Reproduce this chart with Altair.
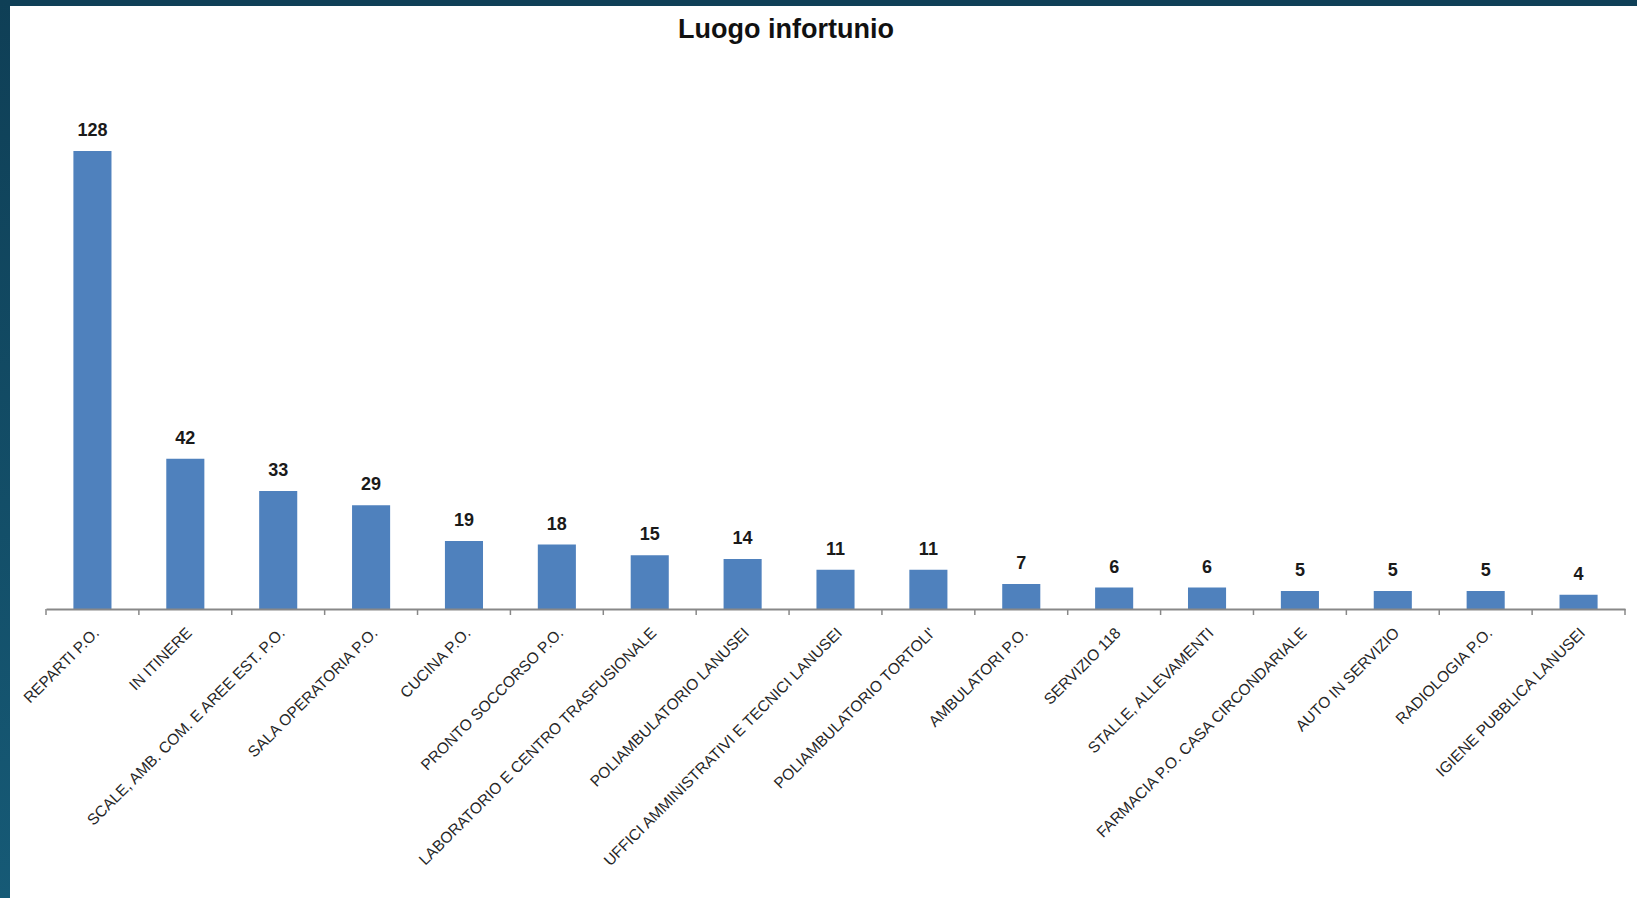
import altair as alt
import pandas as pd

# Workplace injuries by location
categories = [
    "REPARTI P.O.",
    "IN ITINERE",
    "SCALE, AMB. COM. E AREE EST. P.O.",
    "SALA OPERATORIA P.O.",
    "CUCINA P.O.",
    "PRONTO SOCCORSO P.O.",
    "LABORATORIO E CENTRO TRASFUSIONALE",
    "POLIAMBULATORIO LANUSEI",
    "UFFICI AMMINISTRATIVI  E TECNICI LANUSEI",
    "POLIAMBULATORIO TORTOLI'",
    "AMBULATORI P.O.",
    "SERVIZIO 118",
    "STALLE, ALLEVAMENTI",
    "FARMACIA P.O. CASA CIRCONDARIALE",
    "AUTO IN SERVIZIO",
    "RADIOLOGIA P.O.",
    "IGIENE PUBBLICA LANUSEI",
]
counts = [128, 42, 33, 29, 19, 18, 15, 14, 11, 11, 7, 6, 6, 5, 5, 5, 4]
title_text = "Luogo infortunio"

df = pd.DataFrame({"luogo": categories, "n": counts})

W, H = 1579, 501
PAD_L, PAD_T = 46, 108
TOTAL_W, TOTAL_H = 1637, 898

x_enc = alt.X(
    "luogo:N",
    sort=None,
    scale=alt.Scale(paddingInner=0, paddingOuter=0),
    axis=alt.Axis(
        title=None,
        labelAngle=-45,
        labelAlign="right",
        labelBaseline="middle",
        labelPadding=21,
        labelOffset=4,
        labelFont="Liberation Sans",
        labelFontSize=15.5,
        labelColor="#262626",
        labelLimit=600,
        ticks=False,
        tickSize=0,
        domainColor="#888888",
        domainWidth=2,
        zindex=1,
    ),
)
y_enc = alt.Y("n:Q", scale=alt.Scale(domain=[0, 140]), axis=None)

base = alt.Chart(df)

bars = base.mark_bar(color="#4F81BD", width=alt.RelativeBandSize(0.41)).encode(
    x=x_enc, y=y_enc
)

values = base.mark_text(
    font="Liberation Sans",
    fontSize=18,
    fontWeight="bold",
    color="#1a1a1a",
    baseline="alphabetic",
    dy=-15,
).encode(x=alt.X("luogo:N", sort=None), y=y_enc, text="n:Q")

# category separator ticks below the axis line
ticks_start = base.mark_rule(color="#888888", strokeWidth=1.5).encode(
    x=alt.X("luogo:N", sort=None, bandPosition=0),
    y=alt.value(H),
    y2=alt.value(H + 6),
)
ticks_end = (
    alt.Chart(df.tail(1))
    .mark_rule(color="#888888", strokeWidth=1.5)
    .encode(
        x=alt.X("luogo:N", sort=None, bandPosition=1),
        y=alt.value(H),
        y2=alt.value(H + 6),
    )
)

one = alt.Chart(pd.DataFrame({"k": [0]}))

title = one.mark_text(
    text=title_text,
    font="Liberation Sans",
    fontSize=27,
    fontWeight="bold",
    color="#111111",
    align="center",
    baseline="alphabetic",
).encode(x=alt.value(786 - PAD_L), y=alt.value(38 - PAD_T))

# dark frame strips along the top and left edges of the slide
top_strip = one.mark_rect(color="#0f4057").encode(
    x=alt.value(-PAD_L),
    x2=alt.value(TOTAL_W - PAD_L),
    y=alt.value(-PAD_T),
    y2=alt.value(6 - PAD_T),
)
left_strip = one.mark_rect(
    fill=alt.LinearGradient(
        gradient="linear",
        stops=[
            alt.GradientStop(color="#0f3f56", offset=0),
            alt.GradientStop(color="#165a76", offset=1),
        ],
        x1=0,
        x2=0,
        y1=0,
        y2=1,
    )
).encode(
    x=alt.value(-PAD_L),
    x2=alt.value(10 - PAD_L),
    y=alt.value(-PAD_T),
    y2=alt.value(TOTAL_H - PAD_T),
)

chart = (
    alt.layer(bars, values, ticks_start, ticks_end, title, top_strip, left_strip)
    .properties(
        width=W,
        height=H,
        autosize=alt.AutoSizeParams(type="none"),
        padding={
            "left": PAD_L,
            "top": PAD_T,
            "right": TOTAL_W - PAD_L - W,
            "bottom": TOTAL_H - PAD_T - H,
        },
        background="white",
    )
    .configure_view(stroke=None)
)

chart.save("out.html", embed_options={"renderer": "svg", "actions": False})
